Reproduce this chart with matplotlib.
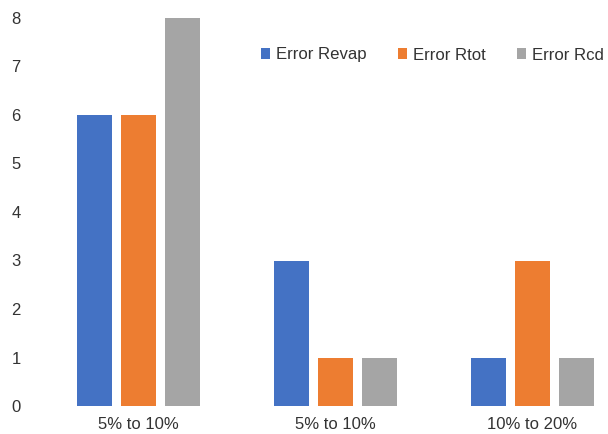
import numpy as np
import matplotlib.pyplot as plt

plt.rcParams['font.family'] = ['Liberation Sans', 'DejaVu Sans']

categories = ['5% to 10%', '5% to 10%', '10% to 20%']
series = ['Error Revap', 'Error Rtot', 'Error Rcd']
revap = [6, 3, 1]
rtot = [6, 1, 3]
rcd = [8, 1, 1]
colors = ['#4472C4', '#ED7D31', '#A5A5A5']

W, H = 608, 434
fig = plt.figure(figsize=(W / 100, H / 100), dpi=100)
ax = fig.add_axes([40 / W, 1 - 406 / H, (W - 40) / W, (406 - 18) / H])

x = np.arange(len(categories))
width = 0.178
step = 0.223
for i, (name, vals) in enumerate(zip(series, [revap, rtot, rcd])):
    ax.bar(x + (i - 1) * step, vals, width, color=colors[i], label=name)

ax.set_xlim(-0.5, -0.5 + (W - 40) / 197)
ax.set_ylim(0, 8)
ax.set_yticks(range(0, 9))
ax.set_xticks(x, categories)
for s in ax.spines.values():
    s.set_visible(False)
ax.tick_params(axis='y', length=0, pad=14, labelsize=12, labelcolor='#333333')
ax.tick_params(axis='x', length=0, pad=8, labelsize=12, labelcolor='#333333')

ax.legend(loc='center left', bbox_to_anchor=(261 / W, 1 - 55 / H),
          bbox_transform=fig.transFigure, ncol=3, frameon=False,
          handlelength=0.55, handleheight=0.55, handletextpad=0.35,
          columnspacing=1.85, fontsize=12.1, borderaxespad=0, borderpad=0)
for t in ax.get_legend().get_texts():
    t.set_color('#333333')

fig.savefig('out.png', dpi=100)
